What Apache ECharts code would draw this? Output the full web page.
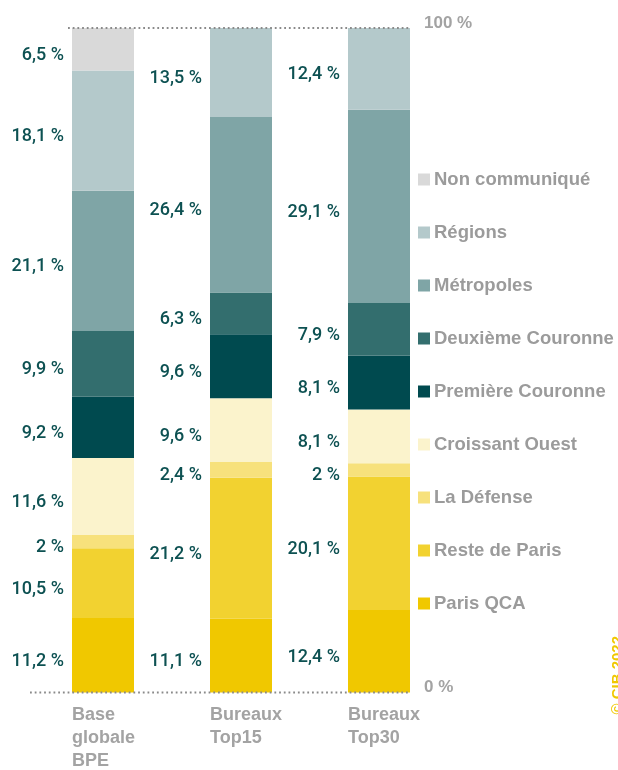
<!DOCTYPE html>
<html>
<head>
<meta charset="utf-8">
<script src="https://cdn.jsdelivr.net/npm/echarts@6/dist/echarts.min.js"></script>
<style>
  html, body { margin: 0; padding: 0; background: #fff; }
  #chart { width: 618px; height: 770px; }
</style>
</head>
<body>
<div id="chart"></div>
<script>
// categories (bottom labels)
var categories = ['Base\nglobale\nBPE', 'Bureaux\nTop15', 'Bureaux\nTop30'];

// series, stacked from bottom to top
var seriesNames = ['Paris QCA', 'Reste de Paris', 'La Défense', 'Croissant Ouest',
    'Première Couronne', 'Deuxième Couronne', 'Métropoles', 'Régions', 'Non communiqué'];
var parisQCA        = [11.2, 11.1, 12.4];
var resteDeParis    = [10.5, 21.2, 20.1];
var laDefense       = [2, 2.4, 2];
var croissantOuest  = [11.6, 9.6, 8.1];
var premiereCour    = [9.2, 9.6, 8.1];
var deuxiemeCour    = [9.9, 6.3, 7.9];
var metropoles      = [21.1, 26.4, 29.1];
var regions         = [18.1, 13.5, 12.4];
var nonCommunique   = [6.5, 0, 0];

var yTicks = [0, 100];

var colors = ['#f0c800', '#f2d230', '#f7e17c', '#fbf3cc', '#004a4f', '#336e6e', '#7fa5a6', '#b4c9cb', '#d9d9d9'];
var values = [parisQCA, resteDeParis, laDefense, croissantOuest, premiereCour, deuxiemeCour, metropoles, regions, nonCommunique];

var myChart = echarts.init(document.getElementById('chart'));

var series = [];
for (var i = 0; i < seriesNames.length; i++) {
    series.push({
        name: seriesNames[i],
        type: 'bar',
        stack: 'total',
        barWidth: 62,
        itemStyle: { color: colors[i] },
        label: {
            show: true,
            position: 'left',
            distance: 8,
            offset: [0, 6],
            color: '#0d5152',
            fontFamily: 'Roboto',
            fontWeight: 500,
            fontSize: 18,
            formatter: function (p) {
                if (!p.value) return '';
                return String(p.value).replace('.', ',') + ' %';
            }
        },
        data: values[i]
    });
}

var option = {
    animation: false,
    grid: { left: 34, width: 414, top: 28, bottom: 74 },
    legend: {
        orient: 'vertical',
        left: 418,
        top: 170,
        padding: 0,
        icon: 'rect',
        itemWidth: 12,
        itemHeight: 12,
        itemGap: 34,
        selectedMode: false,
        textStyle: {
            color: '#9b9b9b',
            fontFamily: 'Liberation Sans',
            fontWeight: 'bold',
            fontSize: 18.5,
            lineHeight: 18,
            padding: [0, 0, 0, -1]
        },
        data: seriesNames.slice().reverse()
    },
    xAxis: {
        type: 'category',
        data: categories,
        axisLine: { show: false },
        axisTick: { show: false },
        axisLabel: {
            margin: 11,
            formatter: function (v) { return '{a|' + v.split('\n').join('}\n{a|') + '}'; },
            rich: {
                a: {
                    width: 62,
                    align: 'left',
                    color: '#a3a3a3',
                    fontFamily: 'Liberation Sans',
                    fontWeight: 'bold',
                    fontSize: 18,
                    lineHeight: 23
                }
            }
        }
    },
    yAxis: {
        type: 'value',
        min: 0,
        max: 100,
        interval: 100,
        position: 'right',
        offset: -24,
        axisLine: { show: false },
        axisTick: { show: false },
        splitLine: { show: false },
        axisLabel: {
            margin: 0,
            align: 'left',
            verticalAlign: 'bottom',
            lineHeight: 10,
            color: '#a3a3a3',
            fontFamily: 'Liberation Sans',
            fontWeight: 'bold',
            fontSize: 17,
            formatter: function (v) { return yTicks.indexOf(v) >= 0 ? v + ' %' : ''; }
        }
    },
    series: series
};

myChart.setOption(option);

// dotted reference lines at 0 % and 100 %, placed through the axis scales
var y0 = myChart.convertToPixel({ yAxisIndex: 0 }, 0);
var y100 = myChart.convertToPixel({ yAxisIndex: 0 }, 100);
var xLast = myChart.convertToPixel({ xAxisIndex: 0 }, categories[2]) + 31;
var xFirst = myChart.convertToPixel({ xAxisIndex: 0 }, categories[0]) - 31;
var dotStyle = { stroke: '#8a8a8a', lineWidth: 1.8, lineDash: [1.8, 2.9] };

myChart.setOption({
    graphic: [
        { type: 'line', z: 10, shape: { x1: 30, y1: y0, x2: xLast, y2: y0 }, style: dotStyle },
        { type: 'line', z: 10, shape: { x1: xFirst - 4, y1: y100, x2: xLast, y2: y100 }, style: dotStyle },
        {
            type: 'text', left: 610, top: 636, rotation: Math.PI / 2,
            style: { text: '© CIB 2022', fill: '#f0c800', font: 'bold 15px "Liberation Sans"' }
        }
    ]
});
</script>
</body>
</html>
